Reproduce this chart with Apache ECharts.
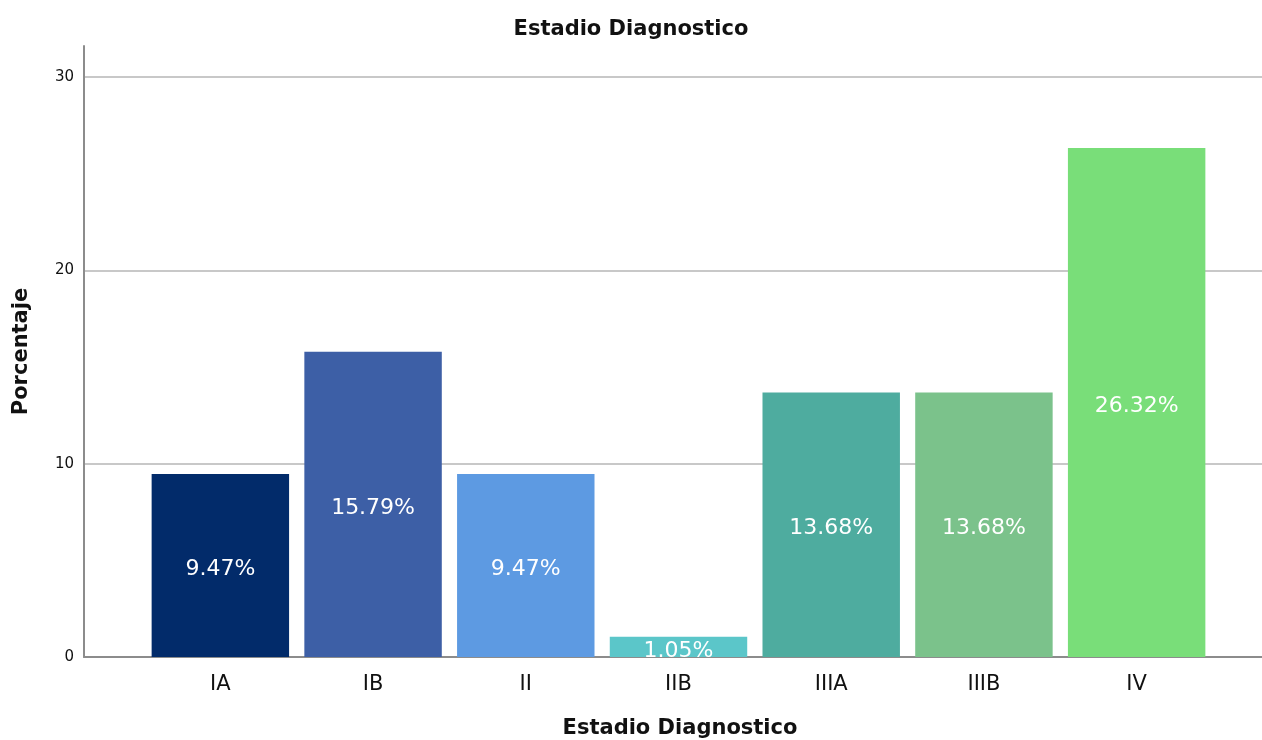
<!DOCTYPE html>
<html>
<head>
<meta charset="utf-8">
<script src="https://cdn.jsdelivr.net/npm/echarts@6/dist/echarts.min.js"></script>
<style>
  html, body { margin: 0; padding: 0; background: #fff; }
  #chart { width: 1262px; height: 740px; }
</style>
</head>
<body>
<div id="chart"></div>
<script>
// Estadio Diagnostico - porcentaje por estadio
const categories = ['IA', 'IB', 'II', 'IIB', 'IIIA', 'IIIB', 'IV'];
const percentages = [9.47, 15.79, 9.47, 1.05, 13.68, 13.68, 26.32];
const barColors = ['#022b6a', '#3d5fa6', '#5d9ae2', '#5bc6c9', '#4eac9f', '#7bc28b', '#79de79'];
const yTicks = [0, 10, 20, 30];

const FONT = '"DejaVu Sans", sans-serif';
const Y_MAX = 31.6;

const chart = echarts.init(document.getElementById('chart'));

const option = {
    backgroundColor: '#ffffff',
    animation: false,
    title: {
        text: 'Estadio Diagnostico',
        left: 'center', top: 14,
        textStyle: { fontFamily: FONT, fontSize: 21, fontWeight: 'bold', color: '#111' }
    },
    grid: [
        // frame: y axis, gridlines, baseline
        { left: 84, right: 0, top: 46, bottom: 83, outerBoundsMode: 'none', containLabel: false },
        // bars, inset like the original
        { left: 144, width: 1069, top: 46, bottom: 83, outerBoundsMode: 'none', containLabel: false }
    ],
    xAxis: [
        {
            gridIndex: 0, type: 'value', min: 0, max: 1,
            axisLine: { show: true, lineStyle: { color: '#8c8c8c', width: 2 } },
            axisTick: { show: false }, axisLabel: { show: false }, splitLine: { show: false },
            name: 'Estadio Diagnostico', nameLocation: 'middle', nameGap: 61,
            nameTextStyle: { fontFamily: FONT, fontSize: 21, fontWeight: 'bold', color: '#111', padding: [0, 0, 0, 14] }
        },
        {
            gridIndex: 1, type: 'category', data: categories,
            axisLine: { show: false }, axisTick: { show: false },
            axisLabel: { fontFamily: FONT, fontSize: 21, color: '#111', margin: 17 }
        }
    ],
    yAxis: [
        {
            gridIndex: 0, type: 'value', min: 0, max: Y_MAX, interval: 10,
            axisLine: { show: true, lineStyle: { color: '#8c8c8c', width: 2 } },
            axisTick: { show: false },
            axisLabel: {
                fontFamily: FONT, fontSize: 15, color: '#111', margin: 10,
                formatter: v => (yTicks.includes(v) ? String(v) : '')
            },
            splitLine: { show: true, showMaxLine: false, lineStyle: { color: '#c8c8c8', width: 2 } },
            name: 'Porcentaje', nameLocation: 'middle', nameGap: 52, nameRotate: 90,
            nameTextStyle: { fontFamily: FONT, fontSize: 21, fontWeight: 'bold', color: '#111' }
        },
        {
            gridIndex: 1, type: 'value', min: 0, max: Y_MAX,
            show: false
        }
    ],
    series: [
        {
            type: 'bar', xAxisIndex: 1, yAxisIndex: 1,
            barCategoryGap: '10%',
            data: percentages.map((v, i) => ({ value: v, itemStyle: { color: barColors[i] } })),
            label: {
                show: true, position: 'inside', offset: [0, 4],
                fontFamily: FONT, fontSize: 22, color: '#ffffff',
                formatter: p => p.value.toFixed(2) + '%'
            }
        }
    ]
};

chart.setOption(option);
</script>
</body>
</html>
